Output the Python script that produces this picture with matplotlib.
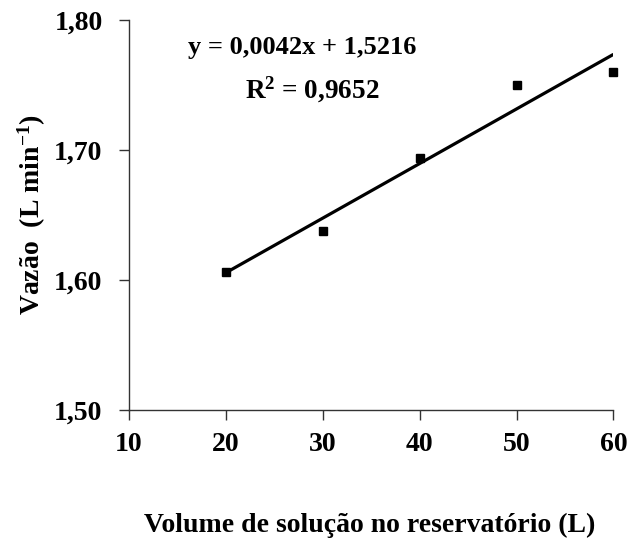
import numpy as np
import matplotlib.pyplot as plt

plt.rcParams['font.family'] = ['Liberation Serif', 'DejaVu Serif']
plt.rcParams['font.weight'] = 'bold'
plt.rcParams['mathtext.default'] = 'regular'

volume = np.array([20, 30, 40, 50, 60])
vazao = np.array([1.606, 1.638, 1.694, 1.750, 1.760])
x_ticks = [10, 20, 30, 40, 50, 60]
y_ticks = [1.50, 1.60, 1.70, 1.80]

# linear fit
a, b = np.polyfit(volume, vazao, 1)
pred = a * volume + b
r2 = 1 - np.sum((vazao - pred) ** 2) / np.sum((vazao - vazao.mean()) ** 2)

fig = plt.figure(figsize=(6.32, 5.47), dpi=100)
ax = fig.add_axes([0.2041, 0.2505, 0.9707 - 0.2041, 0.9634 - 0.2505])

xl = np.array([volume.min(), volume.max()])
ax.plot(xl, 0.0042 * xl + 1.5216, color='black', lw=2.3, solid_capstyle='butt')
ax.plot(volume, vazao, 's', color='black', ms=5.5, clip_on=False)

ax.set_xlim(10, 60)
ax.set_ylim(1.50, 1.80)
ax.set_xticks(x_ticks)
ax.set_yticks(y_ticks)
ax.set_xticklabels([str(v) for v in x_ticks], fontsize=20, fontweight='bold')
ax.set_yticklabels([f"{v:.2f}".replace('.', ',') for v in y_ticks], fontsize=20, fontweight='bold')
ax.tick_params(axis='both', direction='out', length=7, width=1, color='#333333')
ax.tick_params(axis='x', pad=9)
ax.tick_params(axis='y', pad=12)

for s in ['top', 'right']:
    ax.spines[s].set_visible(False)
for s in ['left', 'bottom']:
    ax.spines[s].set_color('#333333')
    ax.spines[s].set_linewidth(1)

ax.text(27.85, 1.7785, f"y = {0.0042:.4f}x + {1.5216:.4f}".replace('.', ','),
        fontsize=19, fontweight='bold', ha='center', va='center')
ax.text(28.9, 1.746, f"R$^{{2}}$ = {r2:.4f}".replace('.', ','),
        fontsize=19.5, fontweight='bold', ha='center', va='center')

fig.text(0.585, 0.04, "Volume de solução no reservatório (L)", fontsize=20,
         fontweight='bold', ha='center', va='center')
fig.text(0.05, 0.607, "Vazão  (L min$^{-1}$)", fontsize=20, fontweight='bold',
         ha='center', va='center', rotation=90)

fig.savefig('out.png', dpi=100)
